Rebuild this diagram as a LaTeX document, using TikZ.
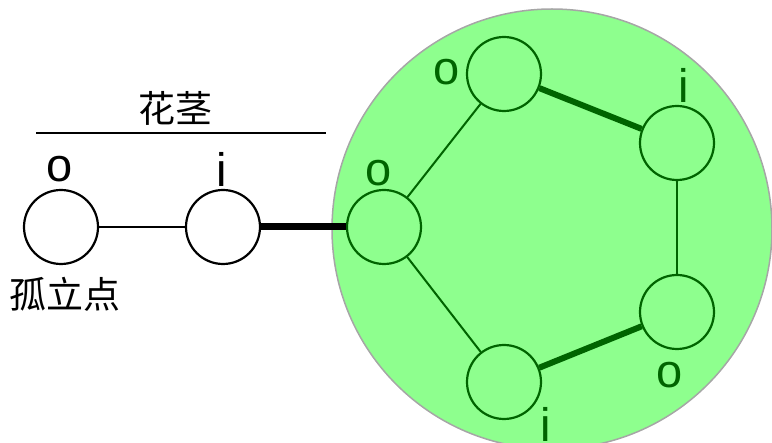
\documentclass[tikz,border=0pt]{standalone}
\usepackage{fontspec}
\setmainfont{Liberation Sans}
\newfontfamily\cjk{Noto Sans CJK SC}
\usepackage{tikz}
\definecolor{petal}{RGB}{142,255,142}
\definecolor{stem}{RGB}{0,100,0}

\begin{document}
\begin{tikzpicture}[x=1pt, y=-1pt,
        vtx/.style={circle, draw, line width=2.2pt, minimum size=74pt, inner sep=0pt},
        lbl/.style={font=\fontsize{47}{47}\selectfont, inner sep=0pt},
        zh/.style={font=\cjk\fontsize{37}{37}\selectfont, inner sep=0pt}]
        \useasboundingbox (0, 0) rectangle (772, 443);

        \node[circle, fill=petal, draw=gray!70, line width=1.5pt, minimum size=440pt, inner sep=0pt] (flower) at (552, 229) {};

        \node[vtx] (iso) at (61, 227) {};
        \node[vtx] (stalk) at (223, 227) {};
        \node[lbl] (isolbl) at (60, 169) {o};
        \node[lbl] (stalklbl) at (222, 169) {i};
        \node[zh] (isoname) at (65, 294) {孤立点};
        \node[zh] (stemname) at (175, 108) {花茎};
        \coordinate (stemL) at (36, 133);
        \coordinate (stemR) at (326, 133);
        \draw[line width=2pt] (stemL) to (stemR);

        \node[vtx, draw=stem] (r1) at (384, 227) {};
        \node[vtx, draw=stem] (r2) at (504, 74) {};
        \node[vtx, draw=stem] (r3) at (677, 143) {};
        \node[vtx, draw=stem] (r4) at (677, 312) {};
        \node[vtx, draw=stem] (r5) at (504, 382) {};
        \node[lbl, text=stem] (r1lbl) at (379, 173) {o};
        \node[lbl, text=stem] (r2lbl) at (447, 72) {o};
        \node[lbl, text=stem] (r3lbl) at (684, 85) {i};
        \node[lbl, text=stem] (r4lbl) at (670, 375) {o};
        \node[lbl, text=stem] (r5lbl) at (546, 424) {i};

        \draw[line width=2pt] (iso) to (stalk);
        \draw[line width=7pt] (stalk) to (r1);
        \draw[line width=2pt, stem] (r1) to (r2);
        \draw[line width=6pt, stem] (r2) to (r3);
        \draw[line width=2pt, stem] (r3) to (r4);
        \draw[line width=6pt, stem] (r4) to (r5);
        \draw[line width=2pt, stem] (r5) to (r1);
    \end{tikzpicture}
\end{document}
